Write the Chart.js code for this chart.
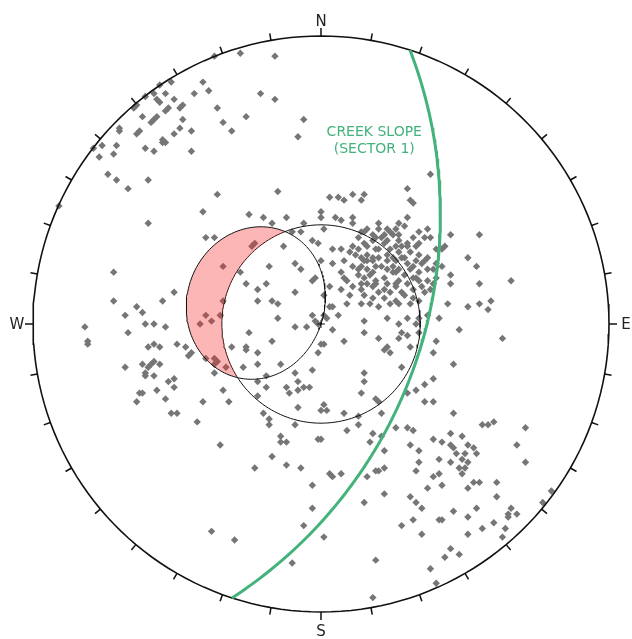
<!DOCTYPE html>
<html><head><meta charset="utf-8">
<script src="https://cdn.jsdelivr.net/npm/chart.js@4"></script>
<style>html,body{margin:0;padding:0;background:#fff}canvas{display:block}</style>
</head><body>
<canvas id="c" width="632" height="639"></canvas>
<script>
// Pole positions, projected (equal-angle, lower hemisphere), [east, north] in % of primitive radius
const setNW = [
[-28,94],[-16,93],[-37,93],[-41,84],[-39,81],[-44,80],[-52,84],[-56,83],[-54,80],[-58,80],
[-57,78],[-56,77],[-61,79],[-51,78],[-48,76],[-49,75],[-64,76],[-65,75],[-53,75],[-54,74],
[-62,72],[-58,71],[-59,70],[-57,72],[-48,71],[-36,75],[-34,70],[-26,72],[-21,80],[-16,78],
[-6,71],[-8,65],[-31,67],[-45,67],[-49,68],[-51,66],[-63,67],[-64,66],[-55,64],[-54,63],
[-55,63],[-70,68],[-70,67],[-76,62],[-79,61],[-71,62],[-77,58],[-72,59],[-61,61],[-58,60],
[-45,60],[-74,52],[-71,50],[-67,47],[-60,50],[-36,45],[-15,46],[-91,41],[38,52]
];
const setWest = [
[-41,39],[-60,35],[-25,38],[-20,37],[-17,35],[-40,30],[-37,30],[-23,28],[-24,27],[-72,18],
[-34,20],[-18,20],[-28,18],[-51,11],[-26,14],[-22,12],[-19,14],
[-72,8],[-55,8],[-34,8],[-22,8],[-17,8],[-15,7],[-64,6],[-62,4],[-68,3],[-35,3],
[-40,3],[-38,1],[-42,0],[-15,2],[-61,0],[-58,0],[-54,-1],[-9,-1],[-82,-1],[-81,-6],
[-81,-7],[-67,-3],[-25,-3],[-17,-6],[-50,-7],[-47,-8],[-45,-10],[-46,-11],[-60,-8],[-56,-8],
[-58,-7],[-26,-8],[-26,-9],[-31,-8],[-22,-10],[-62,-14],[-59,-14],[-58,-13],[-56,-14],[-60,-15],
[-68,-15],[-37,-12],[-36,-13],[-37,-14],[-33,-15],[-40,-12],[-27,-15],[-22,-14],[-14,-14],[-61,-17],
[-61,-18],[-58,-18],[-53,-20],[-51,-19],[-51,-22],[-37,-17],[-19,-18],[-22,-20],[-9,-17],[-8,-20],
[-57,-23],[-34,-23],[-63,-24],[-62,-24],[-64,-27],[-54,-26],[-41,-27],[-32,-27],[-22,-25],[-19,-22],
[-52,-31],[-50,-31],[-12,-22],[-11,-24],[-8,-23],[-20,-31],[-18,-33],[-8,-29]
];
const setNorthCentral = [
[3,44],[6,44],[8,43],[11,45],[15,45],[14,43],[30,47],[31,43],[32,42],[-12,37],
[0,39],[0,37],[5,37],[7,36],[11,37],[11,35],[30,37],[-6,35],[20,35],[20,33],
[27,35],[29,34],[1,33],[16,33],[14,32],[23,33],[24,32],[26,33],[27,31],[37,33],
[34,32],[36,30],[-10,32],[-7,32],[-3,29],[-1,28],[13,30],[15,28],[16,27],[18,29],
[19,30],[21,30],[23,29],[26,27],[27,29],[30,28],[32,30],[38,30],[40,26],[4,26],
[7,26],[10,25],[12,24],[14,23],[16,24],[18,23],[20,26],[23,24],[25,23],[27,25],
[28,23],[31,25],[34,24],[37,23],[40,21],[-9,21],[-7,19],[0,22],[4,21],[8,22],
[11,20],[14,20],[16,22],[19,20],[21,20],[23,22],[25,20],[27,19],[30,21],[32,20],
[35,21],[37,19],[39,19],[-3,15],[-2,16],[7,18],[8,16],[13,17],[15,16],[17,17],
[19,15],[22,16],[25,18],[27,15],[29,17],[32,16],[34,18],[37,15],[40,16],[3,13],
[11,13],[14,12],[16,14],[18,13],[20,11],[23,14],[26,13],[28,11],[30,14],[32,12],
[35,13],[38,12],[-9,11],[1,10],[-13,27],
[45,31],[55,31],[43,27],[42,26],[51,23],[54,20],[42,20],[45,17],[45,14],[55,14],[66,15]
];
const setNECore = [
[15,32],[18,31],[22,31],[25,31],[28,27],[30,27],[33,27],[34,28],[19,26],[22,28],
[24,26],[13,26],[11,27],[15,22],[18,22],[20,23],[26,22],[29,23],[33,22],[36,22],
[13,19],[16,19],[18,18],[23,19],[26,18],[31,19],[33,16],[14,14],[19,14],[22,12],
[24,11],[26,14],[29,10],[34,15],[36,11],[10,10],[15,10],[18,9],[22,9],[26,8],
[32,9],[7,12],[9,15],[39,14],[34,8]
];
const setCentralSouth = [
[51,6],[55,7],[59,8],[58,5],[41,2],[48,-2],[63,-5],[-5,-1],[-2,1],[-1,0],
[1,3],[2,2],[3,6],[4,6],[9,7],[14,7],[17,7],[20,6],[24,7],[27,7],
[31,7],[15,1],[15,-3],[4,-2],[0,-7],[1,-7],[8,-6],[20,-5],[23,2],[27,0],
[30,2],[34,2],[33,0],[28,-3],[30,-4],[27,-5],[31,-8],[22,-9],[23,-8],[24,-10],
[34,-3],[37,3],[40,-6],[-1,-10],[39,-10],[28,-15],[46,-14],[-3,-16],[15,-17],[15,-20],
[39,-19],[36,-21],[33,-23],[30,-24],[-6,-22],[-4,-22],[14,-24],[36,-27],[39,-27],[19,-26],
[20,-27],[21,-31],[1,-28],[2,-30],[0,-30],[8,-31],[13,-32],[46,-31],[-3,3],[6,3],[44,7],
[-43,-34],[-18,-35],[-9,-35],[-35,-42],[-14,-39],[-14,-41],[-12,-41],[-1,-40],[0,-40],[9,-37],
[13,-35],[-17,-46],[-12,-49],[-7,-50],[-23,-50],[3,-52],[4,-53],[7,-52],[-3,-56],[-3,-64],
[-6,-70],[-38,-72],[-30,-75],[1,-74],[-10,-83]
];
const setSE = [
[18,-38],[21,-39],[17,-41],[22,-44],[26,-36],[30,-36],[32,-37],[56,-35],[58,-35],[60,-34],
[71,-36],[39,-40],[42,-41],[45,-38],[49,-39],[31,-42],[34,-44],[45,-42],[46,-43],[47,-45],
[51,-42],[53,-43],[54,-45],[50,-45],[68,-42],[71,-48],[41,-47],[45,-48],[49,-47],[51,-48],
[48,-50],[50,-50],[34,-48],[33,-51],[22,-50],[20,-51],[19,-51],[16,-53],[39,-53],[41,-52],
[49,-52],[53,-55],[55,-55],[37,-57],[42,-56],[51,-57],[61,-55],[61,-60],[22,-59],[15,-62],
[31,-60],[33,-62],[35,-64],[46,-65],[54,-64],[66,-64],[65,-66],[65,-67],[68,-66],[77,-62],
[80,-58],[32,-68],[28,-70],[41,-68],[42,-68],[51,-67],[60,-69],[64,-71],[56,-71],[51,-73],
[35,-73],[63,-74],[45,-78],[48,-80],[43,-81],[19,-82],[38,-85],[40,-90],[18,-95]
];

const compassLabels = ['N', 'E', 'S', 'W'];
const slopeLabel = ['CREEK SLOPE', '(SECTOR 1)'];
const slopeDipDirection = 108;   // degrees
const slopeDip = 51;             // degrees
const frictionAngle = 38;        // degrees

const D = Math.PI / 180;
const GREEN = '#43b27b';

// slope great circle and pole daylight envelope (stereographic, lower hemisphere)
const sVec = [Math.sin((slopeDipDirection - 90) * D), Math.cos((slopeDipDirection - 90) * D), 0];
const dVec = [Math.cos(slopeDip * D) * Math.sin(slopeDipDirection * D),
              Math.cos(slopeDip * D) * Math.cos(slopeDipDirection * D),
              -Math.sin(slopeDip * D)];
const greatCircle = [], envelope = [];
for (let a = 0; a <= 180; a += 1) {
  const c = Math.cos(a * D), s = Math.sin(a * D);
  const v = [c * sVec[0] + s * dVec[0], c * sVec[1] + s * dVec[1], c * sVec[2] + s * dVec[2]];
  const k = 100 / (1 - v[2]);
  greatCircle.push({ x: v[0] * k, y: v[1] * k });
  const h = Math.hypot(v[0], v[1]);
  const r = (-v[2]) / (1 + h);
  envelope.push({ x: -v[0] / h * r * 100, y: -v[1] / h * r * 100 });
}
const coneR = Math.tan(frictionAngle / 2 * D) * 100;
function circlePts(r) {
  const out = [];
  for (let t = 0; t <= 360; t += 2) out.push({ x: r * Math.sin(t * D), y: r * Math.cos(t * D) });
  return out;
}
const poles = [...setNW, ...setWest, ...setNorthCentral, ...setNECore, ...setCentralSouth, ...setSE]
  .map(([e, n]) => ({ x: e, y: n }));

const stereoPlugin = {
  id: 'stereo',
  beforeDatasetDraw(chart, args) {
    if (args.index !== 1) return;
    const { ctx, scales: { x, y }, chartArea } = chart;
    ctx.save();
    ctx.beginPath();
    envelope.forEach((p, i) => {
      const px = x.getPixelForValue(p.x), py = y.getPixelForValue(p.y);
      i ? ctx.lineTo(px, py) : ctx.moveTo(px, py);
    });
    ctx.closePath();
    ctx.clip();
    ctx.beginPath();
    ctx.rect(chartArea.left, chartArea.top, chartArea.width, chartArea.height);
    const cx = x.getPixelForValue(0), cy = y.getPixelForValue(0);
    const cr = x.getPixelForValue(coneR) - cx;
    ctx.moveTo(cx + cr, cy);
    ctx.arc(cx, cy, cr, 0, 2 * Math.PI);
    ctx.fillStyle = 'rgba(248,40,40,0.34)';
    ctx.fill('evenodd');
    ctx.restore();
  },
  afterDatasetsDraw(chart) {
    const { ctx, scales: { x, y } } = chart;
    const cx = x.getPixelForValue(0), cy = y.getPixelForValue(0);
    const R = x.getPixelForValue(100) - cx;
    ctx.save();
    ctx.strokeStyle = '#111';
    ctx.lineWidth = 1.5;
    for (let az = 0; az < 360; az += 10) {
      const ux = Math.sin(az * D), uy = Math.cos(az * D);
      const len = az % 90 === 0 ? 8 : 7;
      ctx.beginPath();
      ctx.moveTo(cx + ux * R, cy - uy * R);
      ctx.lineTo(cx + ux * (R + len), cy - uy * (R + len));
      ctx.stroke();
    }
    // centre cross
    ctx.lineWidth = 1;
    ctx.beginPath();
    ctx.moveTo(cx - 4, cy); ctx.lineTo(cx + 4, cy);
    ctx.moveTo(cx, cy - 4); ctx.lineTo(cx, cy + 4);
    ctx.stroke();
    // compass labels
    ctx.fillStyle = '#222';
    ctx.font = '15px "DejaVu Sans"';
    ctx.textAlign = 'center';
    ctx.textBaseline = 'middle';
    const offs = [15, 17, 19, 16];
    compassLabels.forEach((lab, i) => {
      const az = i * 90 * D, d = R + offs[i];
      ctx.fillText(lab, cx + Math.sin(az) * d, cy - Math.cos(az) * d + 1);
    });
    // slope label
    ctx.fillStyle = GREEN;
    ctx.font = '14px "DejaVu Sans"';
    const lx = x.getPixelForValue(18.5), ly = y.getPixelForValue(66.5);
    slopeLabel.forEach((t, i) => ctx.fillText(t, lx, ly + i * 17));
    ctx.restore();
  }
};

new Chart(document.getElementById('c'), {
  type: 'scatter',
  data: {
    datasets: [
      { label: 'Poles', data: poles, pointStyle: 'rectRot', pointRadius: 3.7,
        backgroundColor: '#767676', borderWidth: 0, order: 3, clip: false },
      { label: 'Daylight envelope', data: envelope, showLine: true, pointRadius: 0,
        borderColor: '#111', borderWidth: 1, fill: false, order: 2, clip: false },
      { label: 'Friction cone', data: circlePts(coneR), showLine: true, pointRadius: 0,
        borderColor: '#111', borderWidth: 1, fill: false, order: 2, clip: false },
      { label: 'Primitive', data: circlePts(100), showLine: true, pointRadius: 0,
        borderColor: '#111', borderWidth: 1.6, fill: false, order: 1, clip: false },
      { label: 'Creek slope', data: greatCircle, showLine: true, pointRadius: 0,
        borderColor: GREEN, borderWidth: 3, fill: false, order: 0, clip: false }
    ]
  },
  options: {
    responsive: false,
    animation: false,
    devicePixelRatio: 1,
    layout: { padding: { left: 33, right: 23, top: 36, bottom: 27 } },
    scales: {
      x: { type: 'linear', min: -100, max: 100, display: false },
      y: { type: 'linear', min: -100, max: 100, display: false }
    },
    plugins: { legend: { display: false }, tooltip: { enabled: false } },
    elements: { line: { tension: 0 } }
  },
  plugins: [stereoPlugin]
});
</script>
</body></html>
